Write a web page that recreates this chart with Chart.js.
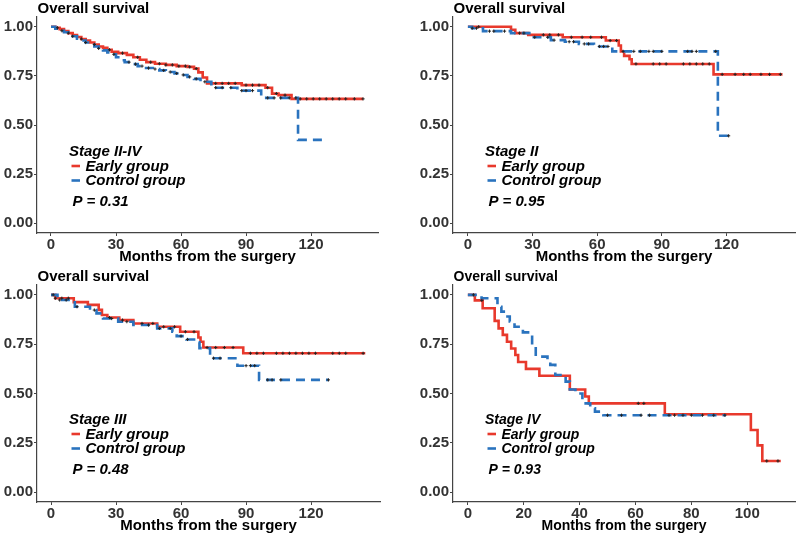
<!DOCTYPE html>
<html>
<head>
<meta charset="utf-8">
<script src="https://cdn.jsdelivr.net/npm/chart.js@4.4.1/dist/chart.umd.min.js"></script>
<style>
  html, body { margin: 0; padding: 0; background: #fff; }
  #wrap { position: relative; width: 800px; height: 535px; overflow: hidden; }
  canvas { position: absolute; }
</style>
</head>
<body>
<div id="wrap">
  <canvas id="c1" width="400" height="266" style="left:0;top:0"></canvas>
  <canvas id="c2" width="400" height="266" style="left:400px;top:0"></canvas>
  <canvas id="c3" width="400" height="269" style="left:0;top:266px"></canvas>
  <canvas id="c4" width="400" height="269" style="left:400px;top:266px"></canvas>
</div>
<script>
// Shared labels
const groupNames = ["Early group", "Control group"];
const stageNames = ["Stage II-IV", "Stage II", "Stage III", "Stage IV"];
const pValues = ["0.31", "0.95", "0.48", "0.93"];
const yTicks = [0, 0.25, 0.5, 0.75, 1];
const xTicksLong = [0, 30, 60, 90, 120];
const xTicksShort = [0, 20, 40, 60, 80, 100];

// Stage II-IV (KM step times in months / survival after the step)
const s1EarlyT = [0, 2, 4, 6, 8, 10, 12, 14, 16, 18, 20, 22, 24, 26, 28, 31, 35, 38, 41, 44, 48, 53, 58, 63, 66, 68, 70, 72, 88, 99, 102, 105, 111, 144];
const s1EarlyS = [1, .995, .988, .978, .968, .958, .948, .938, .93, .92, .91, .9, .893, .883, .873, .866, .857, .845, .832, .82, .812, .806, .8, .796, .787, .768, .742, .712, .703, .69, .66, .652, .633, .633];
const s1CtrlT = [0, 2, 4, 6, 8, 10, 12, 14, 16, 18, 20, 22, 24, 26, 28, 30, 32, 34, 37, 40, 43, 47, 50, 53, 57, 60, 63, 66, 69, 74, 86, 97, 114, 127];
const s1CtrlS = [1, .99, .98, .972, .962, .952, .94, .93, .92, .91, .9, .89, .88, .87, .86, .845, .83, .82, .81, .8, .79, .785, .778, .77, .763, .755, .745, .735, .72, .69, .675, .638, .424, .424];
const s1EarlyCens = [3, 8, 14, 20, 27, 33, 40, 46, 50, 53, 56, 59, 62, 64, 67, 76, 79, 82, 85, 90, 93, 96, 100, 104, 108, 115, 118, 121, 124, 127, 130, 133, 136, 140, 144];
const s1CtrlCens = [5, 10, 16, 22, 29, 36, 39, 42, 45, 48, 52, 55, 58, 61, 64, 67, 71, 76, 79, 83, 88, 90, 93, 100, 103, 106, 110, 113];

// Stage II
const s2EarlyT = [0, 20, 22, 28, 44, 64, 70, 71, 72.5, 75, 76, 114, 146];
const s2EarlyS = [1, .985, .968, .959, .947, .93, .905, .875, .852, .835, .811, .758, .758];
const s2CtrlT = [0, 2, 7, 20, 29.5, 38.5, 45, 51.5, 58.5, 67, 116, 122];
const s2CtrlS = [1, .993, .978, .968, .947, .932, .924, .913, .9, .875, .445, .445];
const s2EarlyCens = [5, 24, 35, 38, 42, 48, 53, 57, 62, 66, 69, 78, 86, 89, 92, 100, 103, 106, 109, 112, 118, 124, 128, 131, 136, 140, 145];
const s2CtrlCens = [2, 4, 10, 12, 17, 26, 31, 37, 40, 47, 49, 54, 56, 61, 63, 65, 72, 77, 80, 84, 86, 90, 102, 104, 106, 115, 121];

// Stage III
const s3EarlyT = [0, 2, 10.5, 17, 22, 23.5, 26, 31.5, 38, 49, 59.6, 68, 69, 70.3, 88.7, 145];
const s3EarlyS = [1, .983, .963, .949, .924, .898, .885, .872, .855, .838, .813, .784, .762, .733, .704, .704];
const s3CtrlT = [0, 3, 11, 18, 21, 24, 31, 38, 49, 56, 58, 62.5, 66, 68.5, 73.4, 86, 96, 128];
const s3CtrlS = [1, .974, .94, .923, .906, .88, .864, .847, .83, .813, .791, .774, .76, .73, .679, .641, .569, .569];
const s3EarlyCens = [2, 5, 8, 27, 33, 42, 47, 52, 57, 62, 66, 72, 76, 80, 84, 92, 95, 98, 104, 107, 110, 113, 116, 119, 122, 130, 133, 136, 144];
const s3CtrlCens = [1, 4, 7, 12, 20, 28, 35, 45, 50, 55, 60, 63, 75, 78, 90, 92, 94, 100, 102, 106, 128];

// Stage IV
const s4EarlyT = [0, 2.5, 5.3, 9.6, 11, 12.5, 14, 15.5, 17, 18, 20.8, 25.6, 36.5, 42, 43.3, 70.5, 101.3, 103.7, 105.4, 112];
const s4EarlyS = [1, .972, .932, .868, .83, .797, .762, .728, .695, .66, .625, .59, .52, .485, .45, .395, .315, .237, .158, .158];
const s4CtrlT = [0, 4.9, 10.6, 12, 13.7, 15, 16.7, 19.7, 23, 24.3, 28.5, 29.5, 31.3, 35, 36.5, 38.5, 41, 43.8, 45.5, 48.5, 92.4];
const s4CtrlS = [1, .983, .94, .915, .89, .865, .838, .81, .746, .687, .665, .645, .594, .56, .52, .5, .45, .425, .408, .39, .39];
const s4EarlyCens = [5, 61, 63, 107, 111];
const s4CtrlCens = [2, 50, 55, 62, 65, 72, 74, 77, 80, 84, 88, 92];

const RED = "#E8392C";
const BLUE = "#2A73BE";
const FONT = '"Liberation Sans", Arial, sans-serif';

// Turn KM steps into a path: hold previous value until the event time, then drop
function stepPoints(times, surv) {
    const pts = [{ x: times[0], y: surv[0] }];
    for (let i = 1; i < times.length; i++) {
        pts.push({ x: times[i], y: surv[i - 1] });
        pts.push({ x: times[i], y: surv[i] });
    }
    return pts;
}

function survAt(times, surv, t) {
    let s = surv[0];
    for (let i = 0; i < times.length; i++) if (times[i] <= t) s = surv[i];
    return s;
}

function censorPoints(cens, times, surv) {
    return cens.map(t => ({ x: t, y: survAt(times, surv, t) }));
}

// Title, in-plot legend and p-value
const kmText = {
    id: "kmText",
    afterDraw(chart, args, opts) {
        const { ctx, chartArea: a } = chart;
        const fs = opts.fontSize;
        ctx.save();
        ctx.fillStyle = "#000";
        ctx.textAlign = "left";
        ctx.textBaseline = "alphabetic";
        ctx.font = `bold ${fs}px ${FONT}`;
        ctx.fillText("Overall survival", a.left + 0.5, a.top - 4);

        const lx = a.left + 32, ly = a.top + 139;
        ctx.font = `italic bold ${fs}px ${FONT}`;
        ctx.fillText(opts.stage, lx, ly);
        const rows = [[10, 15], [24.5, 29]];
        chart.data.datasets.slice(0, 2).forEach((ds, i) => {
            ctx.strokeStyle = ds.borderColor;
            ctx.lineWidth = 2.6;
            ctx.beginPath();
            ctx.moveTo(lx + 2.5, ly + rows[i][0]);
            ctx.lineTo(lx + 11, ly + rows[i][0]);
            ctx.stroke();
            ctx.fillText(ds.label, lx + 16.5, ly + rows[i][1]);
        });
        ctx.fillText("P = " + opts.p, lx + 3.4, ly + 50);
        ctx.restore();
    }
};

function renderPanel(cfg) {
    const ctx = document.getElementById(cfg.id).getContext("2d");
    new Chart(ctx, {
        type: "line",
        data: {
            datasets: [
                {
                    label: groupNames[0], data: stepPoints(cfg.earlyT, cfg.earlyS),
                    borderColor: RED, borderWidth: 2.6, pointRadius: 0, order: 2
                },
                {
                    label: groupNames[1], data: stepPoints(cfg.ctrlT, cfg.ctrlS),
                    borderColor: BLUE, borderWidth: 2.6, borderDash: [9, 6], pointRadius: 0, order: 1
                },
                {
                    label: "censor-early", data: censorPoints(cfg.earlyCens, cfg.earlyT, cfg.earlyS),
                    showLine: false, pointStyle: "cross", pointRadius: 1.6, borderWidth: 1,
                    borderColor: "#222", order: 0
                },
                {
                    label: "censor-control", data: censorPoints(cfg.ctrlCens, cfg.ctrlT, cfg.ctrlS),
                    showLine: false, pointStyle: "cross", pointRadius: 1.6, borderWidth: 1,
                    borderColor: "#222", order: 0
                }
            ]
        },
        options: {
            responsive: false,
            animation: false,
            layout: { padding: { top: cfg.padTop, right: cfg.padRight, left: 0, bottom: 0 } },
            plugins: {
                legend: { display: false },
                tooltip: { enabled: false },
                kmText: { stage: cfg.stage, p: cfg.p, fontSize: cfg.textSize }
            },
            scales: {
                x: {
                    type: "linear",
                    min: cfg.xMin, max: cfg.xMax,
                    afterBuildTicks: s => { s.ticks = cfg.xTicks.map(v => ({ value: v })); },
                    afterFit: s => { s.height = 33; },
                    ticks: {
                        autoSkip: false, maxRotation: 0, padding: 0, color: "#333",
                        font: { family: FONT, weight: "bold", size: 15 }
                    },
                    grid: { drawOnChartArea: false, drawTicks: true, tickLength: 3, color: "#444" },
                    border: { display: true, color: "#444", width: 1.2 },
                    title: {
                        display: true, text: "Months from the surgery", color: "#000",
                        padding: { top: 0, bottom: 0 },
                        font: { family: FONT, weight: "bold", size: cfg.textSize }
                    }
                },
                y: {
                    min: -0.05, max: 1.05,
                    afterBuildTicks: s => { s.ticks = yTicks.map(v => ({ value: v })); },
                    afterFit: s => { s.width = cfg.yWidth; },
                    ticks: {
                        padding: 1, color: "#333",
                        callback: v => v.toFixed(2),
                        font: { family: FONT, weight: "bold", size: 15 }
                    },
                    grid: { drawOnChartArea: false, drawTicks: true, tickLength: 3, color: "#444" },
                    border: { display: true, color: "#444", width: 1.2 }
                }
            }
        },
        plugins: [kmText]
    });
}

document.addEventListener("DOMContentLoaded", () => {
    renderPanel({
        id: "c1", stage: stageNames[0], p: pValues[0],
        earlyT: s1EarlyT, earlyS: s1EarlyS, ctrlT: s1CtrlT, ctrlS: s1CtrlS,
        earlyCens: s1EarlyCens, ctrlCens: s1CtrlCens,
        xTicks: xTicksLong, xMin: -6.46, xMax: 150.9,
        yWidth: 37, padTop: 17, padRight: 22, textSize: 15
    });
    renderPanel({
        id: "c2", stage: stageNames[1], p: pValues[1],
        earlyT: s2EarlyT, earlyS: s2EarlyS, ctrlT: s2CtrlT, ctrlS: s2CtrlS,
        earlyCens: s2EarlyCens, ctrlCens: s2CtrlCens,
        xTicks: xTicksLong, xMin: -6.92, xMax: 151.8,
        yWidth: 53, padTop: 17, padRight: 3, textSize: 15
    });
    renderPanel({
        id: "c3", stage: stageNames[2], p: pValues[2],
        earlyT: s3EarlyT, earlyS: s3EarlyS, ctrlT: s3CtrlT, ctrlS: s3CtrlS,
        earlyCens: s3EarlyCens, ctrlCens: s3CtrlCens,
        xTicks: xTicksLong, xMin: -6.46, xMax: 151.8,
        yWidth: 37, padTop: 19, padRight: 20, textSize: 15
    });
    renderPanel({
        id: "c4", stage: stageNames[3], p: pValues[3],
        earlyT: s4EarlyT, earlyS: s4EarlyS, ctrlT: s4CtrlT, ctrlS: s4CtrlS,
        earlyCens: s4EarlyCens, ctrlCens: s4CtrlCens,
        xTicks: xTicksShort, xMin: -5.32, xMax: 117.1,
        yWidth: 53, padTop: 19, padRight: 2, textSize: 14
    });
});
</script>
</body>
</html>
